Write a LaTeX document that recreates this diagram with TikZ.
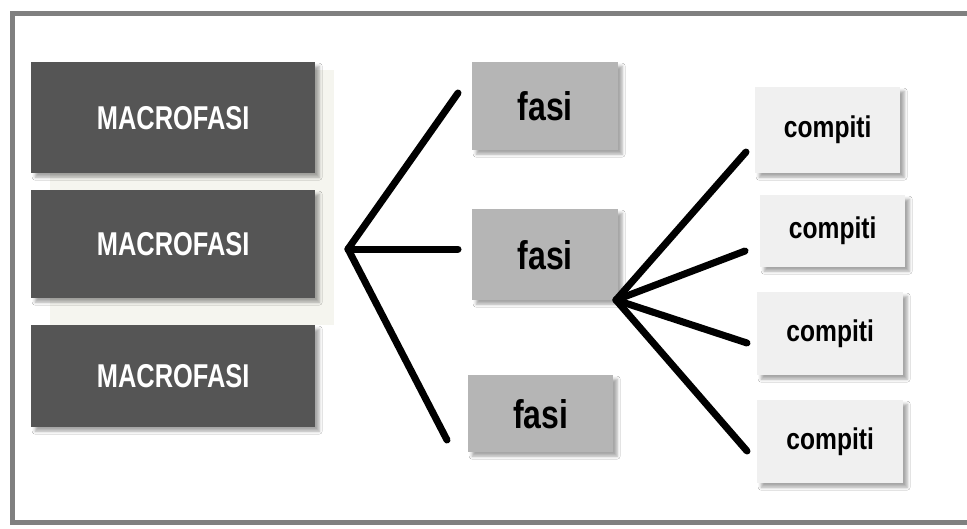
\documentclass[tikz,border=0pt]{standalone}
\usepackage{fontspec}
\setmainfont{Liberation Sans}
\newfontfamily\macrofont{Liberation Sans}[FakeStretch=0.77]
\newfontfamily\fasifont{Liberation Sans}[FakeStretch=0.8]
\newfontfamily\compitifont{Liberation Sans}[FakeStretch=0.82]
\usetikzlibrary{shadows.blur}

\definecolor{framegray}{HTML}{808080}
\definecolor{macrogray}{HTML}{555555}
\definecolor{fasigray}{HTML}{B5B5B5}
\definecolor{compitigray}{HTML}{F0F0F0}
\definecolor{backcream}{HTML}{F5F5EF}

\tikzset{
  box/.style={rectangle, inner sep=0pt, anchor=north west,
    blur shadow={shadow xshift=4pt, shadow yshift=-4pt,
      shadow blur radius=3pt, shadow opacity=35}},
  macrobox/.style={box, fill=macrogray, text=white,
    font=\macrofont\bfseries\fontsize{33}{33}\selectfont},
  fasibox/.style={box, fill=fasigray, text=black,
    font=\fasifont\bfseries\fontsize{40}{40}\selectfont},
  compitibox/.style={box, fill=compitigray, text=black,
    font=\compitifont\bfseries\fontsize{30}{30}\selectfont},
  branch/.style={line width=7pt, black, line cap=round},
}

\begin{document}
\begin{tikzpicture}[x=1pt, y=-1pt]
\useasboundingbox (0,0) rectangle (967,528);
\fill[white] (0,0) rectangle (967,528);

% outer frame (open on the right)
\draw[framegray, line width=5pt] (975,13) -- (12,13) -- (12,522) -- (975,522);

% faint backdrop behind the upper boxes
\fill[backcream] (50,70) rectangle (334,325);

% macro-phases
\node[macrobox, minimum width=284pt, minimum height=111pt] (m1) at (31,62) {MACROFASI};
\node[macrobox, minimum width=284pt, minimum height=108pt] (m2) at (31,190) {MACROFASI};
\node[macrobox, minimum width=284pt, minimum height=102pt] (m3) at (31,325) {MACROFASI};

% phases
\node[fasibox, minimum width=146pt, minimum height=88pt] (f1) at (472,62) {fasi};
\node[fasibox, minimum width=146pt, minimum height=91pt] (f2) at (472,209) {fasi};
\node[fasibox, minimum width=145pt, minimum height=77pt] (f3) at (468,375) {fasi};

% tasks
\node[compitibox, minimum width=145pt, minimum height=86pt] (c1) at (755,87) {compiti};
\node[compitibox, minimum width=145pt, minimum height=72pt] (c2) at (760,195) {compiti};
\node[compitibox, minimum width=146pt, minimum height=83pt] (c3) at (757,292) {compiti};
\node[compitibox, minimum width=146pt, minimum height=83pt] (c4) at (757,400) {compiti};

% branch points and branch ends
\coordinate (hubA) at (348,249);
\coordinate (toF1) at (458,93);
\coordinate (toF2) at (458,249);
\coordinate (toF3) at (447,440);

\coordinate (hubB) at (616,300);
\coordinate (toC1) at (746,152);
\coordinate (toC2) at (745,251);
\coordinate (toC3) at (747,343);
\coordinate (toC4) at (747,451);

\draw[branch] (hubA) -- (toF1);
\draw[branch] (hubA) -- (toF2);
\draw[branch] (hubA) -- (toF3);

\draw[branch] (hubB) -- (toC1);
\draw[branch] (hubB) -- (toC2);
\draw[branch] (hubB) -- (toC3);
\draw[branch] (hubB) -- (toC4);
\end{tikzpicture}
\end{document}
